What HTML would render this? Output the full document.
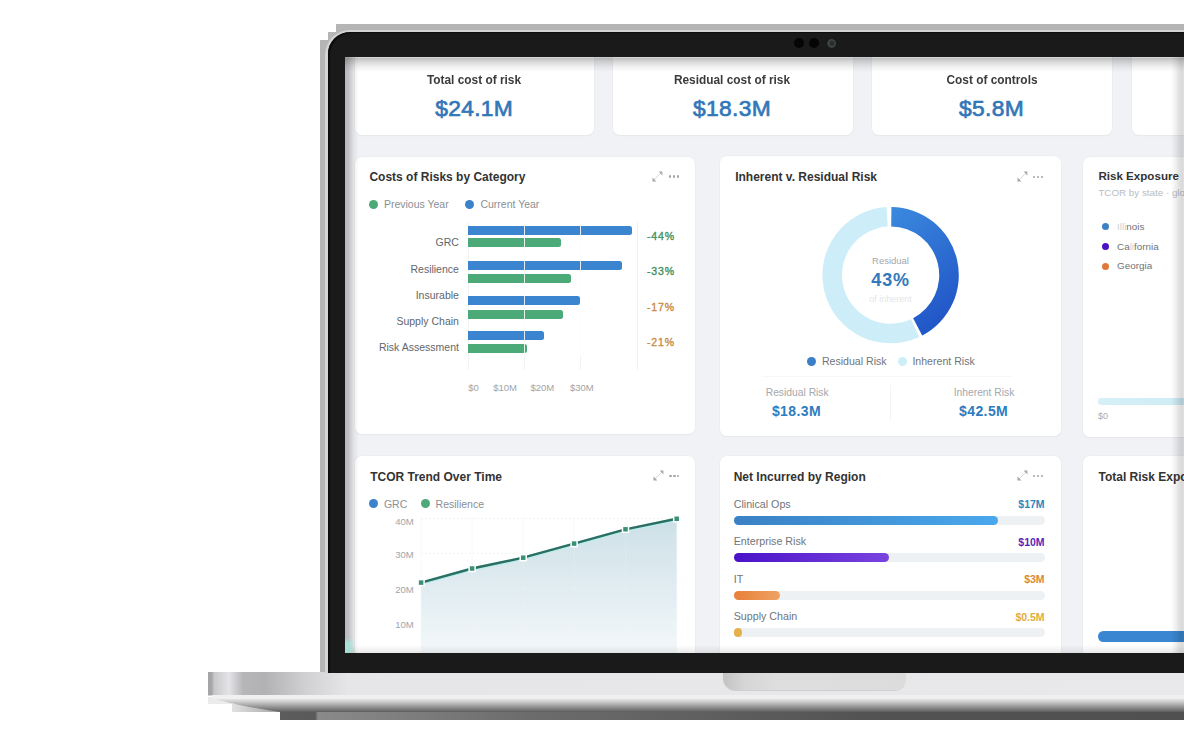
<!DOCTYPE html>
<html><head><meta charset="utf-8">
<style>
*{box-sizing:border-box;margin:0;padding:0}
html,body{width:1184px;height:739px;overflow:hidden;background:#fff}
body{position:relative;font-family:"Liberation Sans",sans-serif;color:#333}
.a{position:absolute}
.gray{background:#b5b5b5}
#rim{left:324.5px;top:30px;width:900px;height:643px;border-radius:25px 0 0 0;background:#d4d4d4}
#bezel{left:327.8px;top:32px;width:900px;height:641px;border-radius:22px 0 0 0;background:#1a1a1a;box-shadow:inset 2px 1px 1px #0d0d0d}
#screen{left:345px;top:57px;width:839px;height:596px;background:#f0f2f5;overflow:hidden}
.cam{width:10px;height:10px;border-radius:50%;background:#050505;top:38px}
.card{position:absolute;background:#fff;border-radius:7px;box-shadow:0 0 0 0.5px #e7e9ec,0 1px 1.5px rgba(0,0,0,0.05)}
.t{position:absolute;white-space:nowrap;line-height:1}
</style></head><body>
<svg class="a" style="left:208px;top:672px" width="976" height="50" viewBox="0 0 976 50">
<defs>
<linearGradient id="gtop" x1="0" x2="976" y1="0" y2="0" gradientUnits="userSpaceOnUse">
<stop offset="0.0000" stop-color="#a4a4a6"/>
<stop offset="0.0041" stop-color="#a8a8aa"/>
<stop offset="0.0061" stop-color="#c8c8ca"/>
<stop offset="0.0215" stop-color="#e4e4e8"/>
<stop offset="0.0359" stop-color="#b6b6b8"/>
<stop offset="0.0584" stop-color="#b2b2b4"/>
<stop offset="0.1025" stop-color="#d2d2d4"/>
<stop offset="0.1434" stop-color="#e6e6e8"/>
<stop offset="1.0000" stop-color="#e9e9eb"/>
</linearGradient>
<linearGradient id="gund" x1="0" x2="0" y1="0" y2="1">
<stop offset="0" stop-color="#ececec"/>
<stop offset="0.2" stop-color="#d6d6d6"/>
<stop offset="0.6" stop-color="#9a9a9a"/>
<stop offset="1" stop-color="#5e5e5e"/>
</linearGradient>
<linearGradient id="gblk" x1="0" x2="1" y1="0" y2="0">
<stop offset="0" stop-color="#e2e2e2"/>
<stop offset="1" stop-color="#a4a4a4"/>
</linearGradient>
<linearGradient id="gfoot" x1="72" x2="976" y1="0" y2="0" gradientUnits="userSpaceOnUse">
<stop offset="0" stop-color="#5c5c5c"/>
<stop offset="0.039" stop-color="#5a5a5a"/>
<stop offset="0.042" stop-color="#8a8a8a"/>
<stop offset="0.277" stop-color="#6c6c6c"/>
<stop offset="0.664" stop-color="#525252"/>
<stop offset="1" stop-color="#505050"/>
</linearGradient>
</defs>
<rect x="0" y="25" width="24" height="7" fill="#ebebeb"/>
<rect x="24" y="32" width="48" height="8" fill="url(#gblk)"/>
<rect x="72" y="40" width="904" height="8" fill="url(#gfoot)"/>
<path d="M4 26 Q30 34 72 40 L976 40 L976 26 Z" fill="url(#gund)"/>
<rect x="0" y="0" width="976" height="23.5" fill="url(#gtop)"/>
<rect x="4" y="23" width="972" height="4" fill="#f0f0f1"/>
</svg>
<!-- lid gray stepped frame -->
<div class="a gray" style="left:336px;top:24px;width:848px;height:648px"></div>
<div class="a gray" style="left:328px;top:32px;width:856px;height:640px"></div>
<div class="a gray" style="left:320px;top:40px;width:864px;height:632px"></div>
<div class="a" id="rim"></div>
<div class="a" id="bezel"></div>
<div class="a cam" style="left:794px"></div>
<div class="a cam" style="left:809px"></div>
<div class="a cam" style="left:826.5px;top:38.5px;width:9.5px;height:9.5px;background:radial-gradient(circle at 55% 48%,#262929 0,#2c3030 30%,#454a4b 52%,#303334 68%,#1b1b1b 85%)"></div>

<div class="a" id="screen"><div class="a" style="left:-345px;top:-57px;width:1184px;height:739px">
<div class="card" style="left:354.5px;top:45px;width:239px;height:90px"></div>
<div class="card" style="left:612.5px;top:45px;width:240px;height:90px"></div>
<div class="card" style="left:872px;top:45px;width:240px;height:90px"></div>
<div class="card" style="left:1131.5px;top:45px;width:240px;height:90px"></div>
<div class="t" style="top:72.77px;font-size:13.5px;color:#3b3b3b;font-weight:700;left:174.20px;width:600px;text-align:center;transform:scaleX(0.88);">Total cost of risk</div>
<div class="t" style="top:96.60px;font-size:22.8px;color:#3277b8;letter-spacing:0.3px;left:174.20px;width:600px;text-align:center;-webkit-text-stroke:0.7px #3277b8;">$24.1M</div>
<div class="t" style="top:72.77px;font-size:13.5px;color:#3b3b3b;font-weight:700;left:432.00px;width:600px;text-align:center;transform:scaleX(0.88);">Residual cost of risk</div>
<div class="t" style="top:96.60px;font-size:22.8px;color:#3277b8;letter-spacing:0.3px;left:432.00px;width:600px;text-align:center;-webkit-text-stroke:0.7px #3277b8;">$18.3M</div>
<div class="t" style="top:72.77px;font-size:13.5px;color:#3b3b3b;font-weight:700;left:691.50px;width:600px;text-align:center;transform:scaleX(0.88);">Cost of controls</div>
<div class="t" style="top:96.60px;font-size:22.8px;color:#3277b8;letter-spacing:0.3px;left:691.50px;width:600px;text-align:center;-webkit-text-stroke:0.7px #3277b8;">$5.8M</div>
<div class="card" style="left:354.5px;top:156.5px;width:340.5px;height:277px"></div>
<div class="card" style="left:719.5px;top:156.3px;width:341px;height:280px"></div>
<div class="card" style="left:1083px;top:157px;width:300px;height:280px"></div>
<div class="t" style="top:171.44px;font-size:12px;color:#333;font-weight:700;left:369.40px;">Costs of Risks by Category</div>
<svg class="a" style="left:651.40px;top:169.60px" width="13" height="13" viewBox="0 0 13 13"><line x1="3" y1="10" x2="9.8" y2="3.2" stroke="#d2d2d2" stroke-width="0.9"/><path d="M1.4 11.6 L1.6 7.6 L5.4 11.4 Z M11.4 1.4 L7.6 1.6 L11.4 5.4 Z" fill="#a8a8a8"/></svg>
<div class="a" style="left:668.90px;top:175.40px;width:2.4px;height:2.4px;border-radius:50%;background:#a4a4a4"></div>
<div class="a" style="left:672.85px;top:175.40px;width:2.4px;height:2.4px;border-radius:50%;background:#a4a4a4"></div>
<div class="a" style="left:676.80px;top:175.40px;width:2.4px;height:2.4px;border-radius:50%;background:#a4a4a4"></div>
<div class="a" style="left:369.00px;top:200.30px;width:9.0px;height:9.0px;border-radius:50%;background:#4caa78"></div>
<div class="t" style="top:199.41px;font-size:10.5px;color:#8a8f94;left:383.90px;">Previous Year</div>
<div class="a" style="left:465.30px;top:200.30px;width:9.0px;height:9.0px;border-radius:50%;background:#3b82cc"></div>
<div class="t" style="top:199.41px;font-size:10.5px;color:#8a8f94;left:480.40px;">Current Year</div>
<div class="a" style="left:467.70px;top:222.00px;width:1.00px;height:148.00px;background:#f1f2f4;"></div>
<div class="a" style="left:523.70px;top:222.00px;width:1.00px;height:148.00px;background:#f1f2f4;"></div>
<div class="a" style="left:579.90px;top:222.00px;width:1.00px;height:148.00px;background:#f1f2f4;"></div>
<div class="a" style="left:636.50px;top:222.00px;width:1.00px;height:148.00px;background:#f1f2f4;"></div>
<div class="a" style="left:468.20px;top:225.50px;width:163.80px;height:9.00px;background:#3b84d0;border-radius:0 2.5px 2.5px 0"></div>
<div class="a" style="left:468.20px;top:238.30px;width:93.10px;height:9.00px;background:#4caa78;border-radius:0 2.5px 2.5px 0"></div>
<div class="a" style="left:468.20px;top:261.30px;width:153.70px;height:9.00px;background:#3b84d0;border-radius:0 2.5px 2.5px 0"></div>
<div class="a" style="left:468.20px;top:273.80px;width:102.60px;height:9.00px;background:#4caa78;border-radius:0 2.5px 2.5px 0"></div>
<div class="a" style="left:468.20px;top:296.40px;width:111.90px;height:9.00px;background:#3b84d0;border-radius:0 2.5px 2.5px 0"></div>
<div class="a" style="left:468.20px;top:309.60px;width:94.80px;height:9.00px;background:#4caa78;border-radius:0 2.5px 2.5px 0"></div>
<div class="a" style="left:468.20px;top:331.40px;width:76.10px;height:9.00px;background:#3b84d0;border-radius:0 2.5px 2.5px 0"></div>
<div class="a" style="left:468.20px;top:344.40px;width:58.80px;height:9.00px;background:#4caa78;border-radius:0 2.5px 2.5px 0"></div>
<div class="a" style="left:523.60px;top:222.00px;width:1.20px;height:134.00px;background:rgba(255,255,255,0.85);"></div>
<div class="a" style="left:579.80px;top:222.00px;width:1.20px;height:134.00px;background:rgba(255,255,255,0.85);"></div>
<div class="t" style="top:237.41px;font-size:10.5px;color:#62666b;left:-141.10px;width:600px;text-align:right;">GRC</div>
<div class="t" style="top:263.71px;font-size:10.5px;color:#62666b;left:-141.10px;width:600px;text-align:right;">Resilience</div>
<div class="t" style="top:290.01px;font-size:10.5px;color:#62666b;left:-141.10px;width:600px;text-align:right;">Insurable</div>
<div class="t" style="top:316.31px;font-size:10.5px;color:#62666b;left:-141.10px;width:600px;text-align:right;">Supply Chain</div>
<div class="t" style="top:341.81px;font-size:10.5px;color:#62666b;left:-141.10px;width:600px;text-align:right;">Risk Assessment</div>
<div class="t" style="top:231.11px;font-size:10.5px;color:#3f8f60;letter-spacing:0.8px;left:74.80px;width:600px;text-align:right;-webkit-text-stroke:0.35px #3f8f60;">-44%</div>
<div class="t" style="top:266.11px;font-size:10.5px;color:#3f8f60;letter-spacing:0.8px;left:74.80px;width:600px;text-align:right;-webkit-text-stroke:0.35px #3f8f60;">-33%</div>
<div class="t" style="top:301.71px;font-size:10.5px;color:#c98a45;letter-spacing:0.8px;left:74.80px;width:600px;text-align:right;-webkit-text-stroke:0.35px #c98a45;">-17%</div>
<div class="t" style="top:336.81px;font-size:10.5px;color:#c98a45;letter-spacing:0.8px;left:74.80px;width:600px;text-align:right;-webkit-text-stroke:0.35px #c98a45;">-21%</div>
<div class="t" style="top:383.46px;font-size:9.5px;color:#a0a4a8;left:468.20px;">$0</div>
<div class="t" style="top:383.46px;font-size:9.5px;color:#a0a4a8;left:493.20px;">$10M</div>
<div class="t" style="top:383.46px;font-size:9.5px;color:#a0a4a8;left:530.50px;">$20M</div>
<div class="t" style="top:383.46px;font-size:9.5px;color:#a0a4a8;left:570.00px;">$30M</div>
<div class="t" style="top:171.44px;font-size:12px;color:#333;font-weight:700;left:735.20px;">Inherent v. Residual Risk</div>
<svg class="a" style="left:1016.10px;top:170.40px" width="13" height="13" viewBox="0 0 13 13"><line x1="3" y1="10" x2="9.8" y2="3.2" stroke="#d2d2d2" stroke-width="0.9"/><path d="M1.4 11.6 L1.6 7.6 L5.4 11.4 Z M11.4 1.4 L7.6 1.6 L11.4 5.4 Z" fill="#a8a8a8"/></svg>
<div class="a" style="left:1033.10px;top:175.70px;width:2.4px;height:2.4px;border-radius:50%;background:#a4a4a4"></div>
<div class="a" style="left:1037.05px;top:175.70px;width:2.4px;height:2.4px;border-radius:50%;background:#a4a4a4"></div>
<div class="a" style="left:1041.00px;top:175.70px;width:2.4px;height:2.4px;border-radius:50%;background:#a4a4a4"></div>
<div class="t" style="top:170.48px;font-size:11.6px;color:#333;font-weight:700;left:1098.40px;">Risk Exposure</div>
<div class="t" style="top:188.30px;font-size:9.8px;color:#babdc0;left:1098.40px;">TCOR by state · global</div>
<div class="a" style="left:1102.00px;top:223.10px;width:7.2px;height:7.2px;border-radius:50%;background:#3b82c4"></div>
<div class="t" style="top:221.82px;font-size:9.9px;color:#6f7478;left:1117.00px;"><span style="color:#d0d2d4">Illi</span>nois</div>
<div class="a" style="left:1102.00px;top:243.00px;width:7.2px;height:7.2px;border-radius:50%;background:#4a12c4"></div>
<div class="t" style="top:241.72px;font-size:9.9px;color:#6f7478;left:1117.00px;">Ca<span style="color:#d0d2d4">li</span>fornia</div>
<div class="a" style="left:1102.00px;top:262.60px;width:7.2px;height:7.2px;border-radius:50%;background:#e07a3c"></div>
<div class="t" style="top:261.32px;font-size:9.9px;color:#6f7478;left:1117.00px;">Georgia</div>
<div class="a" style="left:1098.00px;top:397.90px;width:100.00px;height:7.60px;background:linear-gradient(90deg,#d6f0f7,#cdeaf4);border-radius:3px"></div>
<div class="t" style="top:411.58px;font-size:9px;color:#a8acb0;left:1098.00px;">$0</div>
<div class="card" style="left:354.5px;top:455.5px;width:340.5px;height:280px"></div>
<div class="card" style="left:719.5px;top:455.5px;width:341px;height:280px"></div>
<div class="card" style="left:1082.5px;top:455.5px;width:300px;height:280px"></div>
<div class="t" style="top:470.64px;font-size:12px;color:#333;font-weight:700;left:370.20px;">TCOR Trend Over Time</div>
<svg class="a" style="left:651.60px;top:469.40px" width="13" height="13" viewBox="0 0 13 13"><line x1="3" y1="10" x2="9.8" y2="3.2" stroke="#d2d2d2" stroke-width="0.9"/><path d="M1.4 11.6 L1.6 7.6 L5.4 11.4 Z M11.4 1.4 L7.6 1.6 L11.4 5.4 Z" fill="#a8a8a8"/></svg>
<div class="a" style="left:669.20px;top:474.80px;width:2.4px;height:2.4px;border-radius:50%;background:#a4a4a4"></div>
<div class="a" style="left:673.15px;top:474.80px;width:2.4px;height:2.4px;border-radius:50%;background:#a4a4a4"></div>
<div class="a" style="left:677.10px;top:474.80px;width:2.4px;height:2.4px;border-radius:50%;background:#a4a4a4"></div>
<div class="a" style="left:369.00px;top:499.30px;width:9.0px;height:9.0px;border-radius:50%;background:#3b82cc"></div>
<div class="t" style="top:499.01px;font-size:10.5px;color:#8a8f94;left:383.90px;">GRC</div>
<div class="a" style="left:420.70px;top:499.30px;width:9.0px;height:9.0px;border-radius:50%;background:#4caa78"></div>
<div class="t" style="top:499.01px;font-size:10.5px;color:#8a8f94;left:435.60px;">Resilience</div>
<div class="t" style="top:517.46px;font-size:9.5px;color:#a0a4a8;left:-186.30px;width:600px;text-align:right;">40M</div>
<div class="t" style="top:549.56px;font-size:9.5px;color:#a0a4a8;left:-186.30px;width:600px;text-align:right;">30M</div>
<div class="t" style="top:584.76px;font-size:9.5px;color:#a0a4a8;left:-186.30px;width:600px;text-align:right;">20M</div>
<div class="t" style="top:619.96px;font-size:9.5px;color:#a0a4a8;left:-186.30px;width:600px;text-align:right;">10M</div>
<div class="t" style="top:470.64px;font-size:12px;color:#333;font-weight:700;left:733.70px;">Net Incurred by Region</div>
<svg class="a" style="left:1016.10px;top:469.20px" width="13" height="13" viewBox="0 0 13 13"><line x1="3" y1="10" x2="9.8" y2="3.2" stroke="#d2d2d2" stroke-width="0.9"/><path d="M1.4 11.6 L1.6 7.6 L5.4 11.4 Z M11.4 1.4 L7.6 1.6 L11.4 5.4 Z" fill="#a8a8a8"/></svg>
<div class="a" style="left:1033.10px;top:474.80px;width:2.4px;height:2.4px;border-radius:50%;background:#a4a4a4"></div>
<div class="a" style="left:1037.05px;top:474.80px;width:2.4px;height:2.4px;border-radius:50%;background:#a4a4a4"></div>
<div class="a" style="left:1041.00px;top:474.80px;width:2.4px;height:2.4px;border-radius:50%;background:#a4a4a4"></div>
<div class="t" style="top:498.74px;font-size:10.7px;color:#70757a;left:733.70px;">Clinical Ops</div>
<div class="t" style="top:498.91px;font-size:10.5px;color:#2a88c0;font-weight:700;left:444.60px;width:600px;text-align:right;">$17M</div>
<div class="a" style="left:733.50px;top:515.60px;width:311.10px;height:9.00px;background:#eef1f3;border-radius:5px"></div>
<div class="a" style="left:733.50px;top:515.60px;width:264.80px;height:9.00px;background:linear-gradient(90deg,#3a80c4,#4aa8ec);border-radius:4.5px"></div>
<div class="t" style="top:536.34px;font-size:10.7px;color:#70757a;left:733.70px;">Enterprise Risk</div>
<div class="t" style="top:536.51px;font-size:10.5px;color:#5a1fb8;font-weight:700;left:444.60px;width:600px;text-align:right;">$10M</div>
<div class="a" style="left:733.50px;top:553.20px;width:311.10px;height:9.00px;background:#eef1f3;border-radius:5px"></div>
<div class="a" style="left:733.50px;top:553.20px;width:155.50px;height:9.00px;background:linear-gradient(90deg,#4a12c8,#7a44e0);border-radius:4.5px"></div>
<div class="t" style="top:573.64px;font-size:10.7px;color:#70757a;left:733.70px;">IT</div>
<div class="t" style="top:573.81px;font-size:10.5px;color:#d98a3c;font-weight:700;left:444.60px;width:600px;text-align:right;">$3M</div>
<div class="a" style="left:733.50px;top:590.60px;width:311.10px;height:9.00px;background:#eef1f3;border-radius:5px"></div>
<div class="a" style="left:733.50px;top:590.60px;width:46.50px;height:9.00px;background:linear-gradient(90deg,#e8803a,#eea264);border-radius:4.5px"></div>
<div class="t" style="top:611.34px;font-size:10.7px;color:#70757a;left:733.70px;">Supply Chain</div>
<div class="t" style="top:611.51px;font-size:10.5px;color:#dfae40;font-weight:700;left:444.60px;width:600px;text-align:right;">$0.5M</div>
<div class="a" style="left:733.50px;top:628.30px;width:311.10px;height:9.00px;background:#eef1f3;border-radius:5px"></div>
<div class="a" style="left:733.50px;top:628.30px;width:8.60px;height:9.00px;background:#e8b04a;border-radius:4.5px"></div>
<div class="t" style="top:470.64px;font-size:12px;color:#333;font-weight:700;left:1098.50px;">Total Risk Expo</div>
<div class="a" style="left:1098.00px;top:631.40px;width:120.00px;height:10.80px;background:#3a86d0;border-radius:5.4px"></div>
<svg class="a" style="left:0;top:0" width="1184" height="739" viewBox="0 0 1184 739">
<defs><linearGradient id="gd" x1="0" y1="0" x2="0.4" y2="1"><stop offset="0" stop-color="#3b8ade"/><stop offset="1" stop-color="#2257c8"/></linearGradient></defs>
<path d="M891.43 206.91 A68.2 68.2 0 0 1 922.20 335.54 L913.12 318.17 A48.6 48.6 0 0 0 891.19 226.50 Z" fill="url(#gd)"/>
<path d="M919.21 337.01 A68.2 68.2 0 1 1 886.56 207.02 L887.72 226.59 A48.6 48.6 0 1 0 910.99 319.22 Z" fill="#cdeef8"/>
</svg>
<div class="t" style="top:256.16px;font-size:9.5px;color:#a4a8ac;left:590.50px;width:600px;text-align:center;">Residual</div>
<div class="t" style="top:271.36px;font-size:18px;color:#3279bb;font-weight:700;letter-spacing:0.9px;left:590.60px;width:600px;text-align:center;">43%</div>
<div class="t" style="top:295.18px;font-size:9px;color:#e4e6e8;left:590.50px;width:600px;text-align:center;">of inherent</div>
<div class="a" style="left:807.00px;top:356.50px;width:9.2px;height:9.2px;border-radius:50%;background:#3a7fc8"></div>
<div class="t" style="top:356.23px;font-size:10.6px;color:#70757a;left:821.90px;">Residual Risk</div>
<div class="a" style="left:897.60px;top:356.50px;width:9.2px;height:9.2px;border-radius:50%;background:#cdeef8"></div>
<div class="t" style="top:356.23px;font-size:10.6px;color:#70757a;left:912.40px;">Inherent Risk</div>
<div class="a" style="left:762.00px;top:376.20px;width:250.00px;height:0.80px;background:#f6f7f8;"></div>
<div class="a" style="left:890.40px;top:385.00px;width:0.80px;height:36.00px;background:#f3f4f5;"></div>
<div class="t" style="top:387.58px;font-size:10.3px;color:#a4a8ac;left:497.20px;width:600px;text-align:center;">Residual Risk</div>
<div class="t" style="top:403.85px;font-size:14px;color:#2d7cc0;font-weight:700;letter-spacing:0.4px;left:496.50px;width:600px;text-align:center;">$18.3M</div>
<div class="t" style="top:387.58px;font-size:10.3px;color:#a4a8ac;left:684.00px;width:600px;text-align:center;">Inherent Risk</div>
<div class="t" style="top:403.85px;font-size:14px;color:#2d7cc0;font-weight:700;letter-spacing:0.4px;left:683.60px;width:600px;text-align:center;">$42.5M</div>
<svg class="a" style="left:0;top:0" width="1184" height="739" viewBox="0 0 1184 739">
<defs><linearGradient id="ga" x1="0" y1="0" x2="0" y2="1"><stop offset="0" stop-color="#cde0e7"/><stop offset="1" stop-color="#f5f9fb"/></linearGradient></defs>
<line x1="421.1" y1="518.5" x2="421.1" y2="660" stroke="#eef0f2" stroke-width="0.8" stroke-dasharray="2 2"/><line x1="472.1" y1="518.5" x2="472.1" y2="660" stroke="#eef0f2" stroke-width="0.8" stroke-dasharray="2 2"/><line x1="523.2" y1="518.5" x2="523.2" y2="660" stroke="#eef0f2" stroke-width="0.8" stroke-dasharray="2 2"/><line x1="574.1" y1="518.5" x2="574.1" y2="660" stroke="#eef0f2" stroke-width="0.8" stroke-dasharray="2 2"/><line x1="625.5" y1="518.5" x2="625.5" y2="660" stroke="#eef0f2" stroke-width="0.8" stroke-dasharray="2 2"/><line x1="676.7" y1="518.5" x2="676.7" y2="660" stroke="#eef0f2" stroke-width="0.8" stroke-dasharray="2 2"/><line x1="421" y1="518.5" x2="677" y2="518.5" stroke="#ebedef" stroke-width="0.8" stroke-dasharray="2 2"/><line x1="421" y1="553.4" x2="677" y2="553.4" stroke="#ebedef" stroke-width="0.8" stroke-dasharray="2 2"/><line x1="421" y1="588.6" x2="677" y2="588.6" stroke="#ebedef" stroke-width="0.8" stroke-dasharray="2 2"/><line x1="421" y1="623.8" x2="677" y2="623.8" stroke="#ebedef" stroke-width="0.8" stroke-dasharray="2 2"/>
<path d="M421.1 582.6 L472.1 568.5 L523.2 557.7 L574.1 543.6 L625.5 529.3 L676.7 518.8 L676.7 660 L421.1 660 Z" fill="url(#ga)"/>
<line x1="421.1" y1="518.5" x2="421.1" y2="660" stroke="rgba(255,255,255,0.3)" stroke-width="0.8" stroke-dasharray="2 2"/><line x1="472.1" y1="518.5" x2="472.1" y2="660" stroke="rgba(255,255,255,0.3)" stroke-width="0.8" stroke-dasharray="2 2"/><line x1="523.2" y1="518.5" x2="523.2" y2="660" stroke="rgba(255,255,255,0.3)" stroke-width="0.8" stroke-dasharray="2 2"/><line x1="574.1" y1="518.5" x2="574.1" y2="660" stroke="rgba(255,255,255,0.3)" stroke-width="0.8" stroke-dasharray="2 2"/><line x1="625.5" y1="518.5" x2="625.5" y2="660" stroke="rgba(255,255,255,0.3)" stroke-width="0.8" stroke-dasharray="2 2"/><line x1="676.7" y1="518.5" x2="676.7" y2="660" stroke="rgba(255,255,255,0.3)" stroke-width="0.8" stroke-dasharray="2 2"/><line x1="421" y1="518.5" x2="677" y2="518.5" stroke="rgba(255,255,255,0.3)" stroke-width="0.8" stroke-dasharray="2 2"/><line x1="421" y1="553.4" x2="677" y2="553.4" stroke="rgba(255,255,255,0.3)" stroke-width="0.8" stroke-dasharray="2 2"/><line x1="421" y1="588.6" x2="677" y2="588.6" stroke="rgba(255,255,255,0.3)" stroke-width="0.8" stroke-dasharray="2 2"/><line x1="421" y1="623.8" x2="677" y2="623.8" stroke="rgba(255,255,255,0.3)" stroke-width="0.8" stroke-dasharray="2 2"/>
<path d="M421.1 582.6 L472.1 568.5 L523.2 557.7 L574.1 543.6 L625.5 529.3 L676.7 518.8" fill="none" stroke="#b8efec" stroke-width="3.6" transform="translate(0,0.6)"/>
<path d="M421.1 582.6 L472.1 568.5 L523.2 557.7 L574.1 543.6 L625.5 529.3 L676.7 518.8" fill="none" stroke="#2c6e62" stroke-width="2.4"/>
<rect x="418.1" y="579.6" width="6" height="6" fill="#3a9075" stroke="#fff" stroke-width="1.5"/><rect x="469.1" y="565.5" width="6" height="6" fill="#3a9075" stroke="#fff" stroke-width="1.5"/><rect x="520.2" y="554.7" width="6" height="6" fill="#3a9075" stroke="#fff" stroke-width="1.5"/><rect x="571.1" y="540.6" width="6" height="6" fill="#3a9075" stroke="#fff" stroke-width="1.5"/><rect x="622.5" y="526.3" width="6" height="6" fill="#3a9075" stroke="#fff" stroke-width="1.5"/><rect x="673.7" y="515.8" width="6" height="6" fill="#3a9075" stroke="#fff" stroke-width="1.5"/>
</svg>
</div>
<div class="a" style="left:0;top:0;width:839px;height:15px;background:linear-gradient(180deg,rgba(0,0,0,0.13) 0,rgba(0,0,0,0.24) 1.5px,rgba(0,0,0,0.17) 4px,rgba(0,0,0,0.07) 9px,rgba(0,0,0,0) 15px)"></div>
<div class="a" style="left:0;top:0;width:15px;height:596px;background:linear-gradient(90deg,rgba(0,0,0,0.24) 0,rgba(0,0,0,0.21) 3px,rgba(0,0,0,0.16) 5px,rgba(0,0,0,0.06) 9px,rgba(0,0,0,0) 14px)"></div>
<div class="a" style="left:826px;top:0;width:13px;height:596px;background:linear-gradient(90deg,rgba(0,0,0,0) 0,rgba(0,0,0,0.05) 4px,rgba(0,0,0,0.13) 9px,rgba(0,0,0,0.15) 11px,rgba(0,0,0,0.12) 13px)"></div>
<div class="a" style="left:0;top:588px;width:839px;height:8px;background:linear-gradient(180deg,rgba(0,0,0,0) 0,rgba(0,0,0,0.05) 5px,rgba(0,0,0,0.09) 8px)"></div>
<div class="a" style="left:0;top:581px;width:10px;height:15px;background:linear-gradient(90deg,rgba(160,236,222,0.9),rgba(160,236,222,0.55) 55%,rgba(160,236,222,0));-webkit-mask-image:linear-gradient(180deg,transparent,#000 5px)"></div>
</div>

<!-- base -->

<div class="a" style="left:722.5px;top:673.3px;width:183px;height:16.7px;border-radius:0 0 12px 12px;background:linear-gradient(90deg,#c2c2c2,#d6d6d6 12%,#dedede 30%,#dcdcdc);box-shadow:0 1px 0 #cfcfcf"></div>
</body></html>
